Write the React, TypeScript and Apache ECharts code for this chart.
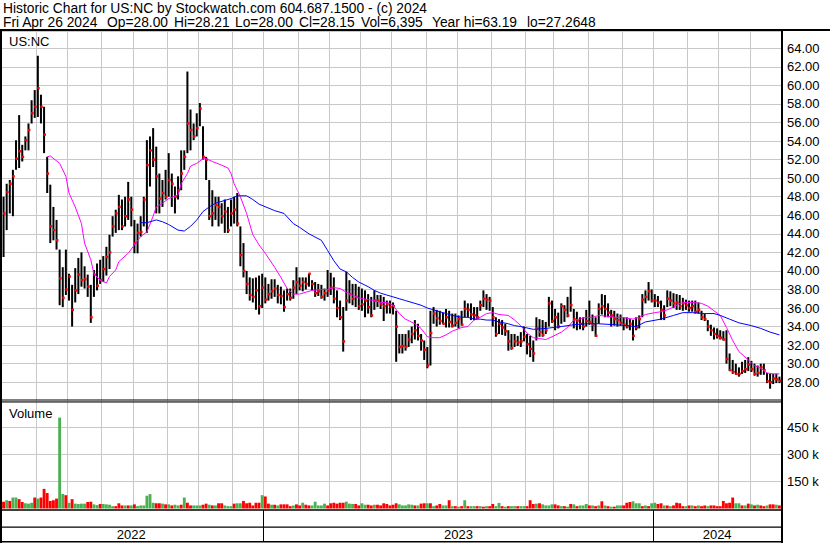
import React, { useEffect, useRef } from 'react';
import * as echarts from 'echarts';

// ~2-trading-day bars, May 2022 -> Apr 26 2024
const highs = [
  48.0,49.4,49.8,50.9,54.1,56.8,53.6,54.5,55.9,58.4,
  59.5,63.2,59.0,57.7,52.3,49.3,46.9,45.5,42.3,40.4,
  42.3,39.7,38.5,40.3,41.4,42.0,40.5,39.6,38.5,40.1,
  40.8,41.2,41.6,42.6,43.9,45.9,46.6,48.2,47.7,48.0,
  49.6,48.0,45.5,45.1,45.9,48.0,54.1,54.5,55.4,53.4,
  50.5,49.8,50.9,52.7,50.5,49.1,50.2,53.0,53.0,61.5,
  57.4,55.9,57.0,58.1,55.6,52.3,49.8,48.7,48.0,48.0,
  47.3,47.7,46.9,47.7,48.0,48.4,44.8,43.0,40.0,39.3,
  39.2,39.3,39.5,39.7,39.3,38.6,39.1,39.1,38.5,38.3,
  37.9,38.1,38.1,39.0,40.4,39.3,39.3,39.3,39.7,39.0,
  38.8,38.6,38.5,38.1,40.1,39.8,39.3,37.9,36.8,36.1,
  39.9,39.0,38.6,38.6,38.3,38.1,37.9,37.5,37.2,37.9,
  37.4,37.4,37.2,36.8,36.8,36.6,35.7,33.2,33.2,33.2,
  33.6,34.0,34.7,34.3,33.2,32.5,31.8,35.7,36.1,35.8,
  35.7,35.5,35.9,35.7,35.4,35.4,35.2,35.7,36.8,36.5,
  36.5,36.1,36.1,36.8,37.9,37.5,37.2,36.1,35.0,34.8,
  34.7,34.3,33.6,33.2,33.2,33.0,33.4,34.0,33.2,33.0,
  32.5,35.0,34.8,34.7,34.5,37.2,36.8,35.9,35.5,36.5,
  36.3,37.2,38.3,35.9,35.6,35.0,35.0,35.8,36.8,35.3,
  35.0,36.5,37.5,37.4,36.5,35.8,35.7,35.4,35.3,35.0,
  35.0,34.8,34.7,35.0,35.2,37.5,37.9,38.8,38.0,37.5,
  37.3,36.8,36.3,37.9,37.8,37.6,37.5,37.4,37.1,36.9,
  36.8,36.8,36.8,36.6,35.7,35.4,34.7,34.2,33.9,33.8,
  33.6,33.5,33.6,31.1,30.4,30.0,29.6,30.2,30.4,30.7,
  30.3,30.0,29.8,30.0,30.0,29.0,28.9,28.9,28.9,28.6,
];

const lows = [
  41.5,44.4,46.2,45.9,50.9,51.1,51.8,53.0,53.0,55.9,
  56.5,56.6,55.9,52.7,48.4,43.0,43.3,42.3,36.3,36.1,
  37.4,36.8,34.0,36.6,37.5,38.3,38.1,37.2,34.4,37.2,
  37.9,38.6,38.8,39.5,40.2,43.7,44.1,44.4,44.4,44.8,
  45.5,44.8,41.9,41.9,43.7,44.8,44.1,49.1,51.2,46.2,
  46.2,46.9,47.7,48.0,46.9,46.2,47.7,48.7,50.9,52.7,
  53.0,54.1,54.5,55.6,52.0,49.8,45.5,44.8,45.5,44.8,
  45.1,44.1,44.1,44.8,45.1,44.8,40.5,39.3,37.5,36.8,
  36.6,35.8,35.3,36.0,36.5,36.8,37.0,37.2,36.5,36.4,
  35.6,36.8,36.8,37.0,37.5,37.9,37.8,38.0,38.3,37.9,
  37.2,37.3,37.0,36.8,37.2,37.4,36.5,35.0,34.7,31.3,
  35.7,36.5,36.3,36.1,35.8,35.7,35.0,35.4,35.0,35.8,
  36.1,35.9,34.6,35.4,35.4,35.3,30.2,31.1,31.1,31.4,
  31.8,32.2,32.6,32.5,31.4,30.4,29.5,29.8,34.3,34.0,
  34.2,34.3,33.9,33.9,33.9,34.0,33.8,34.1,35.0,35.0,
  34.7,34.7,34.8,35.7,36.1,35.8,35.7,34.0,32.9,33.2,
  33.1,33.0,31.4,31.5,31.8,31.9,31.8,32.4,31.0,30.7,
  30.2,32.5,32.9,32.9,33.2,34.0,34.4,33.6,33.8,34.3,
  34.5,35.0,35.6,33.8,33.6,33.7,33.6,34.0,34.2,33.5,
  32.9,34.3,35.3,35.0,35.0,34.0,34.1,34.0,34.1,33.6,
  33.8,33.6,32.5,33.6,33.8,35.0,36.5,36.8,36.6,36.1,
  36.1,34.7,34.7,36.1,36.2,36.0,35.8,35.8,35.7,35.8,
  35.6,35.6,35.4,35.4,34.7,34.6,33.5,33.0,32.6,32.7,
  32.6,32.5,30.0,29.2,28.9,28.8,28.6,28.9,29.0,29.2,
  29.1,28.7,28.6,28.8,28.8,27.9,27.3,27.8,27.9,27.9,
];

const closes = [
  46.2,48.5,49.4,50.2,52.1,52.9,52.3,54.1,55.2,57.0,
  57.7,59.7,57.7,54.7,50.5,44.8,44.4,43.3,39.2,37.1,
  38.0,39.4,35.8,37.9,39.6,39.0,39.1,38.3,35.0,39.6,
  38.4,39.0,40.2,41.5,42.0,44.8,46.2,46.9,44.8,45.9,
  47.7,46.6,43.0,44.1,44.2,47.7,51.4,53.0,52.0,50.2,
  47.8,48.4,48.0,49.8,49.4,48.0,48.7,50.5,52.3,55.9,
  55.2,54.5,55.4,57.5,52.3,52.0,45.9,46.2,47.1,46.9,
  45.9,46.4,44.4,46.2,46.6,45.1,41.7,40.0,38.6,37.4,
  37.2,37.9,36.2,38.2,36.9,37.5,37.8,38.1,37.4,37.3,
  36.1,37.5,37.1,38.2,38.8,38.4,38.8,38.6,39.7,38.6,
  37.6,37.8,37.2,37.6,37.9,38.2,37.0,36.0,35.0,32.4,
  36.8,37.5,37.0,37.2,36.2,36.4,36.8,36.1,35.2,36.8,
  36.8,36.4,36.2,36.4,36.1,36.2,34.0,31.8,31.9,31.8,
  32.6,33.2,33.6,33.0,32.5,31.5,29.8,33.3,35.4,34.9,
  34.6,34.3,35.0,34.5,34.1,34.4,34.8,34.2,35.9,35.8,
  35.3,35.2,35.0,36.3,37.0,36.9,36.8,35.0,33.2,34.3,
  33.9,33.5,32.4,31.7,32.4,32.3,32.4,32.9,32.1,31.6,
  31.1,33.8,33.4,33.1,33.6,36.5,34.6,35.0,34.0,36.2,
  35.8,35.2,36.3,34.8,34.6,34.3,34.0,34.6,34.5,34.2,
  33.0,35.9,36.2,35.9,35.5,35.2,34.8,34.7,34.4,34.2,
  34.0,34.3,33.0,33.9,34.8,36.9,37.2,37.8,36.8,36.8,
  36.6,35.8,35.2,37.0,36.8,36.5,36.6,36.2,36.5,36.3,
  36.0,36.2,35.6,35.8,35.0,34.8,34.0,33.6,33.2,33.0,
  32.8,32.6,30.5,29.3,29.1,28.9,28.9,29.2,29.4,29.9,
  29.4,28.9,29.0,29.6,29.3,28.1,28.0,28.4,28.3,28.15,
];

// volume in thousands of shares
const volumes = [
  38,46,42,61,61,52,36,29,27,32,
  61,55,61,109,86,42,46,55,505,80,
  74,32,52,27,25,27,27,36,38,23,
  19,25,25,23,21,13,13,29,17,17,
  17,17,23,13,17,17,71,80,32,29,
  29,27,23,23,17,21,17,21,61,32,
  17,17,17,17,21,27,21,17,17,29,
  29,17,13,13,27,29,29,42,29,32,
  17,32,32,74,67,27,21,21,17,23,
  23,23,13,17,23,17,32,21,17,17,
  38,17,17,27,17,29,32,27,32,32,
  38,27,25,25,17,29,21,21,17,21,
  21,17,29,25,17,21,29,23,17,17,
  23,21,17,17,27,29,29,29,13,17,
  25,17,17,46,13,13,10,13,46,13,
  13,13,13,13,10,13,13,25,13,31,
  13,10,13,13,13,13,13,13,13,46,
  25,27,29,23,17,17,23,23,17,13,
  13,10,25,23,13,17,17,25,17,17,
  13,17,40,17,13,10,10,17,17,17,
  32,36,40,29,29,13,17,13,29,32,
  25,29,17,17,13,17,32,29,13,13,
  17,17,13,17,13,17,13,17,17,13,
  13,42,29,32,61,29,29,17,17,27,
  23,17,21,17,13,17,23,23,21,17,
];

// 1 = up day (green volume), 0 = down day (red volume)
const volumeUp = [
  0,1,0,1,1,0,0,1,1,1,
  0,1,0,0,0,0,0,0,1,1,
  0,1,0,1,1,1,1,0,0,1,
  1,0,1,1,1,1,0,0,0,1,
  0,1,0,1,1,1,1,1,1,0,
  0,1,0,1,0,1,1,0,1,0,
  0,1,1,1,0,0,1,0,1,0,
  0,1,1,1,0,1,1,0,0,0,
  0,0,0,1,0,0,1,0,1,0,
  0,0,0,1,0,0,1,0,0,1,
  1,1,1,1,0,0,0,0,0,0,
  1,1,1,0,0,1,1,0,0,1,
  0,0,0,0,0,0,0,1,1,1,
  1,1,0,1,0,0,1,0,1,0,
  0,1,1,0,1,0,1,0,1,0,
  1,1,0,1,0,1,0,0,1,1,
  0,1,0,1,1,0,1,1,0,0,
  0,1,0,1,1,1,1,0,0,1,
  0,1,0,1,0,1,1,1,0,1,
  0,1,0,1,0,1,0,1,1,0,
  0,0,1,1,1,0,1,0,1,1,
  0,0,1,0,1,0,0,0,0,1,
  0,1,0,1,0,0,1,0,0,0,
  0,0,0,0,0,1,1,0,1,0,
  1,0,1,0,0,1,0,0,1,0,
];

// moving averages: [bar index, value]
const maShort = [
  [14,52.3],[15,52.4],[18,51.6],[20,50.2],[21,48.4],[23,46.9],[25,45.1],[26,43.0],[28,41.2],[29,39.7],
  [31,39.0],[33,38.7],[34,39.4],[36,40.1],[37,41.0],[40,41.9],[42,42.8],[44,43.7],[46,44.2],[48,45.9],
  [49,46.9],[51,47.3],[53,47.8],[56,48.2],[57,49.4],[59,50.5],[60,51.3],[62,51.6],[64,52.1],[65,52.1],
  [67,51.8],[70,51.4],[72,51.1],[73,50.5],[74,49.4],[76,48.0],[78,46.2],[80,43.9],[82,42.8],[84,41.9],
  [87,40.4],[89,39.3],[91,38.1],[93,37.5],[95,37.5],[97,37.7],[99,37.9],[102,38.0],[104,38.0],[106,38.2],
  [108,38.1],[110,37.7],[112,37.4],[114,37.1],[117,36.9],[119,36.8],[121,36.6],[123,36.6],[125,36.3],[127,35.4],
  [129,34.8],[132,34.3],[134,33.8],[136,32.9],[138,32.8],[140,32.8],[142,33.1],[144,33.5],[147,33.9],[149,34.0],
  [151,34.7],[153,35.0],[155,35.4],[157,35.5],[159,35.3],[162,35.2],[164,34.7],[166,34.1],[168,33.3],[170,32.8],
  [172,32.7],[174,32.6],[176,32.9],[179,33.4],[181,33.9],[183,34.7],[185,34.8],[187,35.0],[189,35.0],[191,35.2],
  [194,35.1],[196,35.0],[198,35.0],[200,34.9],[202,34.8],[204,35.0],[206,35.3],[209,35.5],[211,35.6],[213,35.8],
  [215,36.1],[217,36.5],[219,36.6],[221,36.6],[224,36.5],[226,36.2],[228,35.7],[230,35.2],[232,33.9],[234,32.5],
  [236,31.3],[239,30.4],[241,29.8],[243,29.5],[245,29.0],[247,28.9],[249,28.9],
];

const maLong = [
  [44,45.2],[46,45.2],[49,45.5],[51,45.3],[53,45.0],[56,44.4],[58,44.3],[60,44.8],[62,45.5],[64,46.4],
  [66,46.9],[68,47.3],[71,47.6],[73,47.8],[75,48.1],[78,48.1],[80,47.7],[82,47.2],[87,46.5],[90,46.2],
  [93,45.1],[95,44.7],[98,44.0],[102,43.3],[104,42.2],[106,41.1],[108,40.2],[110,39.9],[112,39.3],[114,38.8],
  [117,38.3],[119,37.9],[121,37.6],[123,37.4],[125,37.2],[127,37.0],[129,36.8],[132,36.5],[134,36.3],[136,36.0],
  [138,35.8],[140,35.6],[142,35.4],[144,35.2],[147,35.0],[149,35.0],[151,34.8],[153,34.8],[155,34.7],[157,34.7],
  [159,34.5],[162,34.3],[164,34.1],[166,34.0],[170,33.7],[174,33.8],[179,34.0],[183,34.2],[187,34.3],[191,34.3],
  [196,34.2],[200,34.1],[203,34.0],[206,34.5],[211,34.8],[215,35.2],[218,35.5],[221,35.5],[225,35.4],[228,35.4],
  [230,35.2],[233,34.8],[236,34.4],[240,34.1],[243,33.8],[246,33.4],[249,33.1],
];

const monthStartIdx = [11,21,32,42,53,63,74,84,95,105,115,125,136,146,157,168,177,188,199,209,220,230,240];
const yearStartIdx = [84, 209];
const yearLabelIdx = [41, 146, 229];
const yearLabels = ['2022', '2023', '2024'];
const priceTicks = [28,30,32,34,36,38,40,42,44,46,48,50,52,54,56,58,60,62,64];
const volumeTicks = [150000, 300000, 450000];

const FONT = "'Liberation Sans', Arial, sans-serif";

export default function App() {
  const ref = useRef<HTMLDivElement>(null);

  useEffect(() => {
    const chart = echarts.init(ref.current as HTMLDivElement, null, { renderer: 'svg' });
    const cats = closes.map((_, i) => String(i));
    const monthSet = new Set(monthStartIdx);
    const yearSet = new Set(yearStartIdx);
    const grid = '#c8c8c8';

    const text = (t: string, x: number, y: number, size = 13) => ({
      type: 'text', x, y, z: 100,
      style: { text: t, fill: '#000', fontSize: size, fontFamily: FONT, align: 'left', verticalAlign: 'middle' },
    });
    const rect = (x: number, y: number, w: number, h: number) => ({
      type: 'rect', z: 100, shape: { x, y, width: w, height: h }, style: { fill: '#000' },
    });

    const option: any = {
      animation: false,
      backgroundColor: '#fff',
      grid: [
        { left: 2, width: 779, top: 31, height: 369.75 },
        { left: 2, width: 779, top: 400.5, height: 108 },
        { left: 2, width: 779, top: 510, height: 32 },
      ],
      xAxis: [0, 1].map((g) => ({
        type: 'category', gridIndex: g, data: cats, boundaryGap: true,
        axisLine: { show: false }, axisTick: { show: false }, axisLabel: { show: false },
        splitLine: { show: true, interval: (i: number) => monthSet.has(i), lineStyle: { color: grid, width: 1 } },
      })).concat([{
        type: 'category', gridIndex: 2, data: cats, boundaryGap: true,
        axisLine: { show: false }, axisTick: { show: false },
        axisLabel: {
          show: true, inside: true, margin: 8, verticalAlign: 'middle',
          interval: (i: number) => yearLabelIdx.includes(i),
          formatter: (v: string) => { const k = yearLabelIdx.indexOf(Number(v)); return k >= 0 ? yearLabels[k] : ''; },
          color: '#000', fontSize: 13, fontFamily: FONT,
        },
        splitLine: { show: true, interval: (i: number) => yearSet.has(i), lineStyle: { color: '#000', width: 1 } },
      } as any]),
      yAxis: [
        {
          type: 'value', gridIndex: 0, position: 'right', min: 26, max: 65.87, interval: 2,
          axisLine: { show: false }, axisTick: { show: false },
          axisLabel: {
            margin: 6, color: '#000', fontSize: 13, fontFamily: FONT,
            formatter: (v: number) => (priceTicks.some((t) => Math.abs(t - v) < 1e-6) ? v.toFixed(2) : ''),
          },
          splitLine: { lineStyle: { color: grid, width: 1 } },
        },
        {
          type: 'value', gridIndex: 1, position: 'right', min: 0, max: 600000, interval: 150000,
          axisLine: { show: false }, axisTick: { show: false },
          axisLabel: {
            margin: 6, color: '#000', fontSize: 13, fontFamily: FONT,
            formatter: (v: number) => (volumeTicks.includes(v) ? v / 1000 + ' k' : ''),
          },
          splitLine: { lineStyle: { color: ['rgba(0,0,0,0)', grid, grid, grid, 'rgba(0,0,0,0)'], width: 1 } },
        },
        { type: 'value', gridIndex: 2, show: false },
      ],
      series: [
        {
          type: 'bar', xAxisIndex: 1, yAxisIndex: 1, barCategoryGap: '8%',
          data: volumes.map((v, i) => ({ value: v * 1000, itemStyle: { color: volumeUp[i] ? '#4caf50' : '#ff0000' } })),
        },
        {
          type: 'custom', xAxisIndex: 0, yAxisIndex: 0, z: 2,
          encode: { x: 0, y: [1, 2] },
          data: closes.map((c, i) => [i, highs[i], lows[i], c]),
          renderItem: (_p: any, api: any) => {
            const i = api.value(0);
            const top = api.coord([i, api.value(1)]);
            const bot = api.coord([i, api.value(2)]);
            const c = api.coord([i, api.value(3)]);
            return {
              type: 'group',
              children: [
                { type: 'rect', shape: { x: top[0] - 1, y: top[1], width: 2, height: Math.max(1, bot[1] - top[1]) }, style: { fill: '#000' } },
                { type: 'rect', shape: { x: c[0] - 0.5, y: c[1] - 1.2, width: 2.4, height: 2.4 }, style: { fill: '#ff0000' } },
              ],
            };
          },
        },
        {
          type: 'line', xAxisIndex: 0, yAxisIndex: 0, z: 3, data: maShort, showSymbol: false,
          lineStyle: { color: '#ff00ff', width: 1 },
        },
        {
          type: 'line', xAxisIndex: 0, yAxisIndex: 0, z: 3, data: maLong, showSymbol: false,
          lineStyle: { color: '#0000ff', width: 1 },
        },
      ],
      graphic: [
        text('Historic Chart for US:NC by Stockwatch.com 604.687.1500 - (c) 2024', 3, 8.5, 13.8),
        text('Fri Apr 26 2024', 3, 22, 13.8),
        text('Op=28.00', 107, 22, 13.8),
        text('Hi=28.21', 174, 22, 13.8),
        text('Lo=28.00', 235, 22, 13.8),
        text('Cl=28.15', 299, 22, 13.8),
        text('Vol=6,395', 361, 22, 13.8),
        text('Year hi=63.19', 432, 22, 13.8),
        text('lo=27.2648', 527, 22, 13.8),
        text('US:NC', 9, 41),
        text('Volume', 9, 413.3),
        rect(0, 29, 830, 2),
        rect(0, 29, 2, 514),
        rect(781, 29, 2, 514),
        rect(0, 399.5, 783, 1),
        rect(0, 401.5, 783, 1),
        rect(0, 509.3, 783, 1.5),
        rect(0, 526.5, 783, 1.2),
        rect(0, 541, 783, 1.5),
      ],
    };

    chart.setOption(option);
    return () => chart.dispose();
  }, []);

  return (
    <div
      ref={ref}
      style={{ position: 'absolute', left: 0, top: 0, width: 830, height: 543, background: '#fff' }}
    />
  );
}
